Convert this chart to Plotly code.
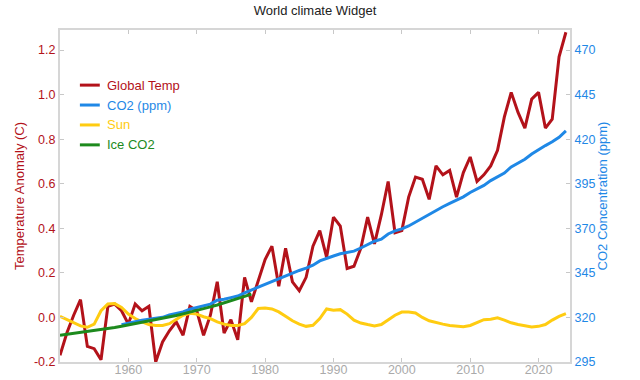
import plotly.graph_objects as go

# ---------------- data ----------------
years_temp = list(range(1950, 2025))
global_temp = [-0.17, -0.07, 0.01, 0.08, -0.13, -0.14, -0.19, 0.05, 0.06, 0.03,
               -0.03, 0.06, 0.03, 0.05, -0.20, -0.11, -0.06, -0.02, -0.08, 0.05,
               0.03, -0.08, 0.01, 0.16, -0.07, -0.01, -0.10, 0.18, 0.07, 0.16,
               0.26, 0.32, 0.14, 0.31, 0.16, 0.12, 0.18, 0.32, 0.39, 0.27,
               0.45, 0.41, 0.22, 0.23, 0.31, 0.45, 0.33, 0.46, 0.61, 0.38,
               0.39, 0.54, 0.63, 0.62, 0.53, 0.68, 0.64, 0.66, 0.54, 0.65,
               0.72, 0.61, 0.64, 0.68, 0.75, 0.90, 1.01, 0.92, 0.85, 0.98,
               1.01, 0.85, 0.89, 1.17, 1.28]

years_co2 = list(range(1959, 2025))
co2_ppm = [315.98, 316.91, 317.64, 318.45, 318.99, 319.62, 320.04, 321.37, 322.18, 323.05,
           324.62, 325.68, 326.32, 327.46, 329.68, 330.19, 331.13, 332.03, 333.84, 335.41,
           336.84, 338.76, 340.12, 341.48, 343.15, 344.87, 346.35, 347.61, 349.31, 351.69,
           353.20, 354.45, 355.70, 356.54, 357.21, 358.96, 360.97, 362.74, 363.88, 366.84,
           368.54, 369.71, 371.32, 373.45, 375.98, 377.70, 379.98, 382.09, 384.02, 385.83,
           387.64, 390.10, 391.85, 394.06, 396.74, 398.81, 401.01, 404.41, 406.76, 408.72,
           411.65, 414.21, 416.41, 418.53, 421.08, 424.61]

years_sun = list(range(1950, 2025))
sun = [0.005, -0.010, -0.025, -0.038, -0.044, -0.030, 0.030, 0.060, 0.062, 0.045,
       0.015, -0.005, -0.020, -0.032, -0.036, -0.036, -0.028, -0.010, 0.010, 0.019,
       0.015, 0.003, -0.005, -0.020, -0.030, -0.036, -0.036, -0.028, 0.000, 0.040,
       0.042, 0.038, 0.025, 0.005, -0.015, -0.030, -0.040, -0.035, -0.005, 0.038,
       0.032, 0.035, 0.015, -0.012, -0.025, -0.032, -0.038, -0.032, -0.010, 0.010,
       0.024, 0.024, 0.020, 0.000, -0.015, -0.024, -0.030, -0.036, -0.040, -0.042,
       -0.036, -0.022, -0.010, -0.008, -0.002, -0.012, -0.024, -0.032, -0.038, -0.043,
       -0.040, -0.032, -0.012, 0.005, 0.017]

years_ice = list(range(1950, 1979))
ice_co2 = [310.0, 310.5, 311.0, 311.5, 312.0, 312.6, 313.2, 313.8, 314.4, 315.1,
           315.8, 316.5, 317.2, 317.9, 318.7, 319.5, 320.3, 321.1, 322.0, 322.9,
           323.9, 324.9, 325.9, 327.0, 328.1, 329.3, 330.5, 331.8, 333.1]

series_names = ["Global Temp", "CO2 (ppm)", "Sun", "Ice CO2"]
x_tickvals = [1960, 1970, 1980, 1990, 2000, 2010, 2020]
y_tickvals = [-0.2, 0.0, 0.2, 0.4, 0.6, 0.8, 1.0, 1.2]
y_ticktext = ["-0.2", "0.0", "0.2", "0.4", "0.6", "0.8", "1.0", "1.2"]
y2_tickvals = [295, 320, 345, 370, 395, 420, 445, 470]

# ---------------- style ----------------
RED = "#b3121a"
BLUE = "#1f88e6"
GOLD = "#ffcc11"
GREEN = "#1d8a1d"
FRAME = "#d6d6d6"
FONT = "Liberation Sans, Arial, sans-serif"
colors = [RED, BLUE, GOLD, GREEN]

fig = go.Figure()
fig.add_trace(go.Scatter(x=years_temp, y=global_temp, mode="lines", name=series_names[0],
                         line=dict(color=RED, width=3), showlegend=False))
fig.add_trace(go.Scatter(x=years_sun, y=sun, mode="lines", name=series_names[2],
                         line=dict(color=GOLD, width=3), showlegend=False))
fig.add_trace(go.Scatter(x=years_co2, y=co2_ppm, mode="lines", name=series_names[1],
                         line=dict(color=BLUE, width=3), yaxis="y2", showlegend=False))
fig.add_trace(go.Scatter(x=years_ice, y=ice_co2, mode="lines", name=series_names[3],
                         line=dict(color=GREEN, width=3), yaxis="y2", showlegend=False))

# manual legend
leg_y = [0.834, 0.774, 0.714, 0.654]
for name, col, yy in zip(series_names, colors, leg_y):
    fig.add_shape(type="line", xref="paper", yref="paper", x0=0.039, x1=0.078, y0=yy, y1=yy,
                  line=dict(color=col, width=3))
    fig.add_annotation(xref="paper", yref="paper", x=0.088, y=yy, text=name, showarrow=False,
                       xanchor="left", yanchor="middle", font=dict(color=col, size=13, family=FONT))

fig.update_layout(
    width=640, height=380,
    margin=dict(l=60, r=70, t=30, b=18, autoexpand=False),
    paper_bgcolor="white", plot_bgcolor="white",
    font=dict(family=FONT, size=12.5),
    title=dict(text="World climate Widget", x=0.5, xanchor="center", xref="paper",
               y=0.973, yref="container", yanchor="middle",
               font=dict(size=13, color="#222222", family=FONT)),
    xaxis=dict(range=[1950, 2024.6], tickvals=x_tickvals, showgrid=False, zeroline=False,
               automargin=False, ticklabelstandoff=-5,
               showline=True, linecolor=FRAME, linewidth=2, mirror="ticks",
               ticks="inside", ticklen=4, tickcolor="#c8c8c8",
               tickfont=dict(color="#aaaaaa", size=12.5)),
    yaxis=dict(range=[-0.2, 1.29], tickvals=y_tickvals, ticktext=y_ticktext,
               automargin=False,
               showgrid=False, zeroline=False, showline=True, linecolor=FRAME, linewidth=2,
               ticks="inside", ticklen=4, tickcolor="#c8c8c8",
               tickfont=dict(color=RED, size=12.5),
               title=dict(text="Temperature Anomaly (C)", font=dict(color=RED, size=13), standoff=6)),
    yaxis2=dict(range=[295, 481.25], tickvals=y2_tickvals, overlaying="y", side="right",
                automargin=False,
                showgrid=False, zeroline=False, showline=True, linecolor=FRAME, linewidth=2,
                ticks="inside", ticklen=4, tickcolor="#c8c8c8",
                tickfont=dict(color=BLUE, size=12.5),
                title=dict(text="CO2 Concentration (ppm)", font=dict(color=BLUE, size=13), standoff=3)),
)

fig.write_html("out.html", config={"displayModeBar": False},
               post_script="document.body.style.margin='0';")
